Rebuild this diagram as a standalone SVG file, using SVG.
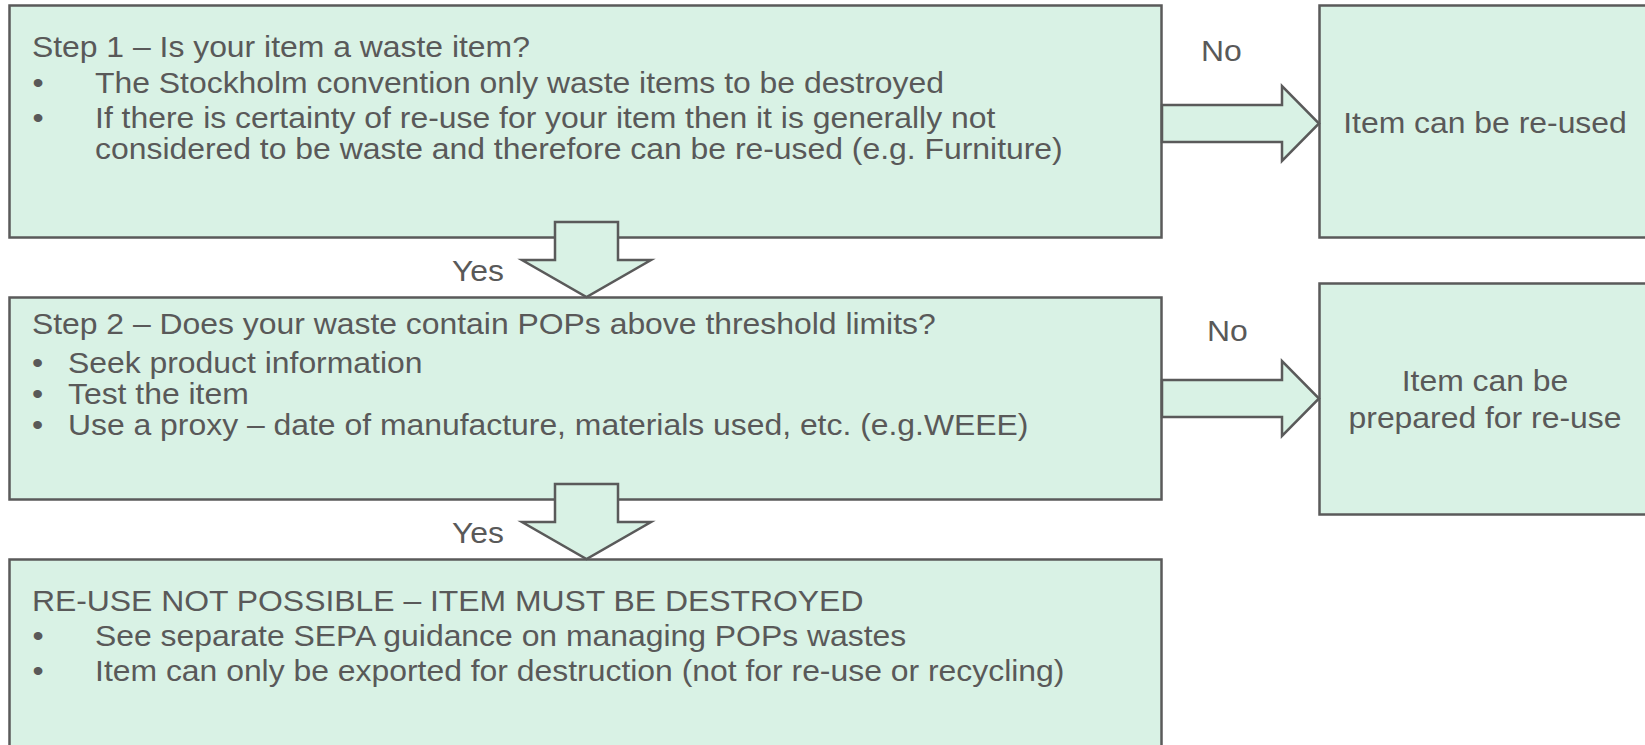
<svg xmlns="http://www.w3.org/2000/svg" width="1645" height="745" viewBox="0 0 1645 745">
<style>
.box{fill:#d9f2e5;stroke:#5a5a5a;stroke-width:2.5}
.arr{fill:#d9f2e5;stroke:#5a5a5a;stroke-width:2.5;stroke-linejoin:miter}
.t{font-family:"Liberation Sans",Arial,sans-serif;font-size:29px;fill:#595959}
.c{text-anchor:middle}
</style>
<rect width="1645" height="745" fill="#ffffff"/>
<g id="step1">
<rect class="box" x="9.5" y="5.5" width="1152" height="232"/>
<g transform="scale(1.1 1)">
<text class="t" x="29" y="57">Step 1 – Is your item a waste item?</text>
<text class="t" x="29.5" y="93">•</text>
<text class="t" x="86.4" y="93">The Stockholm convention only waste items to be destroyed</text>
<text class="t" x="29.5" y="128">•</text>
<text class="t" x="86.4" y="128">If there is certainty of re-use for your item then it is generally not</text>
<text class="t" x="86.4" y="159">considered to be waste and therefore can be re-used (e.g. Furniture)</text>
</g>
</g>
<g id="reused">
<rect class="box" x="1319.5" y="5.5" width="340" height="232"/>
<g transform="scale(1.1 1)">
<text class="t c" x="1350" y="133">Item can be re-used</text>
</g>
</g>
<g id="step2">
<rect class="box" x="9.5" y="297.5" width="1152" height="202"/>
<g transform="scale(1.1 1)">
<text class="t" x="29" y="334">Step 2 – Does your waste contain POPs above threshold limits?</text>
<text class="t" x="29" y="373">•</text>
<text class="t" x="61.8" y="373">Seek product information</text>
<text class="t" x="29" y="404">•</text>
<text class="t" x="61.8" y="404">Test the item</text>
<text class="t" x="29" y="435">•</text>
<text class="t" x="61.8" y="435">Use a proxy – date of manufacture, materials used, etc. (e.g.WEEE)</text>
</g>
</g>
<g id="prepared">
<rect class="box" x="1319.5" y="283.5" width="340" height="231"/>
<g transform="scale(1.1 1)">
<text class="t c" x="1350" y="391">Item can be</text>
<text class="t c" x="1350" y="428">prepared for re-use</text>
</g>
</g>
<g id="destroy">
<rect class="box" x="9.5" y="559.5" width="1152" height="200"/>
<g transform="scale(1.1 1)">
<text class="t" x="29" y="611">RE-USE NOT POSSIBLE – ITEM MUST BE DESTROYED</text>
<text class="t" x="29.5" y="646">•</text>
<text class="t" x="86.4" y="646">See separate SEPA guidance on managing POPs wastes</text>
<text class="t" x="29.5" y="681">•</text>
<text class="t" x="86.4" y="681">Item can only be exported for destruction (not for re-use or recycling)</text>
</g>
</g>
<g id="connectors">
<polygon class="arr" points="1162,105 1282,105 1282,86 1319,123.5 1282,161 1282,142 1162,142"/>
<polygon class="arr" points="1162,380 1282,380 1282,361 1319,398.5 1282,436 1282,417 1162,417"/>
<polygon class="arr" points="555,222 618,222 618,260 651,260 586.5,297 522,260 555,260"/>
<polygon class="arr" points="555,484 618,484 618,522 651,522 586.5,559 522,522 555,522"/>
<g transform="scale(1.1 1)">
<text class="t" x="1091.8" y="61">No</text>
<text class="t" x="1097.3" y="341">No</text>
<text class="t" x="410.9" y="281">Yes</text>
<text class="t" x="410.9" y="543">Yes</text>
</g>
</g>
</svg>
